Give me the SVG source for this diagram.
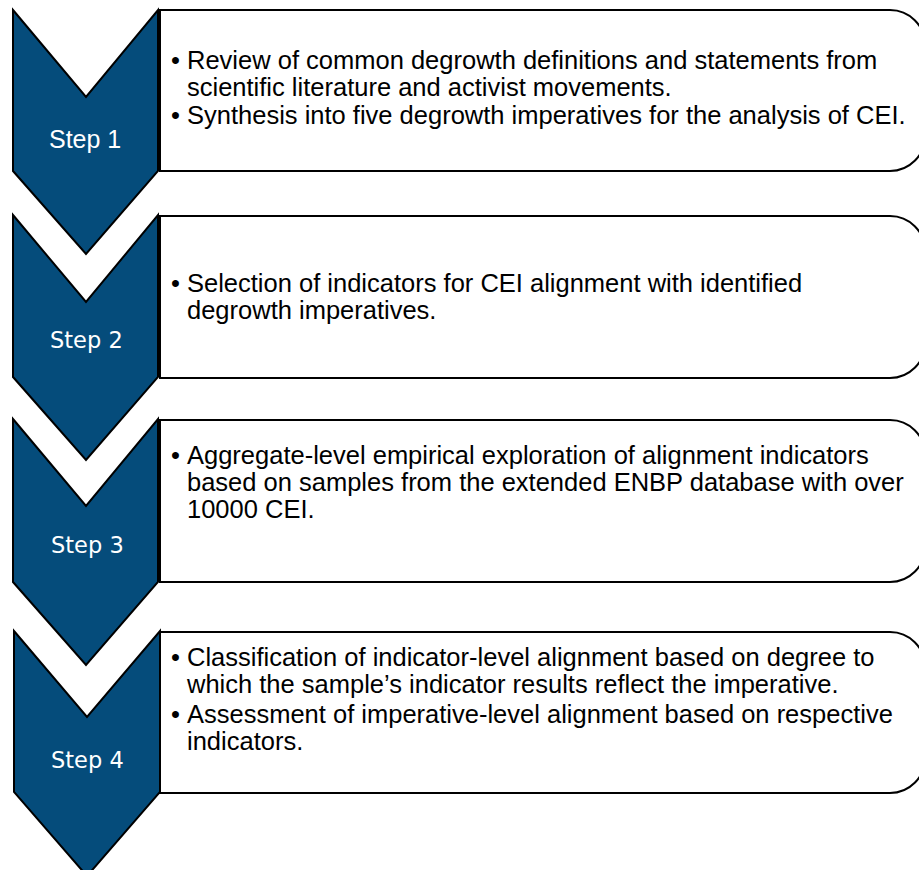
<svg xmlns="http://www.w3.org/2000/svg" width="919" height="870" viewBox="0 0 919 870">
<style>
.box{fill:#fff;stroke:#000;stroke-width:2}
.chev{fill:#054C7B;stroke:#000;stroke-width:2;stroke-linejoin:miter}
.t{font-family:"Liberation Sans",Arial,sans-serif;font-size:25.5px;fill:#000}
.s1{font-family:"Liberation Sans",Arial,sans-serif;font-size:25px;fill:#fff}
.s{font-family:"DejaVu Sans","Open Sans",sans-serif;font-size:22.5px;fill:#fff}
</style>
<rect width="919" height="870" fill="#fff"/>
<g id="connectors"></g>
<g id="step1">
<path class="box" d="M160,10 H890 A35,35 0 0 1 925,45 V136 A35,35 0 0 1 890,171 H160 Z"/>
<path class="chev" d="M13,10 L86,97 L158,10 V171 L86,254 L13,171 Z"/>
<text class="s1" x="49" y="148">Step 1</text>
<text class="t" x="171" y="69">•</text><text class="t" x="187" y="69">Review of common degrowth definitions and statements from</text>
<text class="t" x="187" y="96">scientific literature and activist movements.</text>
<text class="t" x="171" y="124">•</text><text class="t" x="187" y="124">Synthesis into five degrowth imperatives for the analysis of CEI.</text>
</g>
<g id="step2">
<path class="box" d="M160,216 H890 A35,35 0 0 1 925,251 V343 A35,35 0 0 1 890,378 H160 Z"/>
<path class="chev" d="M13,215 L86,302 L158,215 V377 L86,460 L13,377 Z"/>
<text class="s" x="50" y="348">Step 2</text>
<text class="t" x="171" y="292">•</text><text class="t" x="187" y="292">Selection of indicators for CEI alignment with identified</text>
<text class="t" x="187" y="319">degrowth imperatives.</text>
</g>
<g id="step3">
<path class="box" d="M160,420 H890 A35,35 0 0 1 925,455 V547 A35,35 0 0 1 890,582 H160 Z"/>
<path class="chev" d="M13,419 L86,506 L158,419 V582 L86,665 L13,582 Z"/>
<text class="s" x="51" y="553">Step 3</text>
<text class="t" x="171" y="464">•</text><text class="t" x="187" y="464">Aggregate-level empirical exploration of alignment indicators</text>
<text class="t" x="187" y="491">based on samples from the extended ENBP database with over</text>
<text class="t" x="187" y="518">10000 CEI.</text>
</g>
<g id="step4">
<path class="box" d="M160,632 H890 A35,35 0 0 1 925,667 V758 A35,35 0 0 1 890,793 H160 Z"/>
<path class="chev" d="M14,631 L87,717 L160,631 V792 L87,876 L14,792 Z"/>
<text class="s" x="51" y="768">Step 4</text>
<text class="t" x="171" y="666">•</text><text class="t" x="187" y="666">Classification of indicator-level alignment based on degree to</text>
<text class="t" x="187" y="693">which the sample’s indicator results reflect the imperative.</text>
<text class="t" x="171" y="723">•</text><text class="t" x="187" y="723">Assessment of imperative-level alignment based on respective</text>
<text class="t" x="187" y="750">indicators.</text>
</g>
</svg>
